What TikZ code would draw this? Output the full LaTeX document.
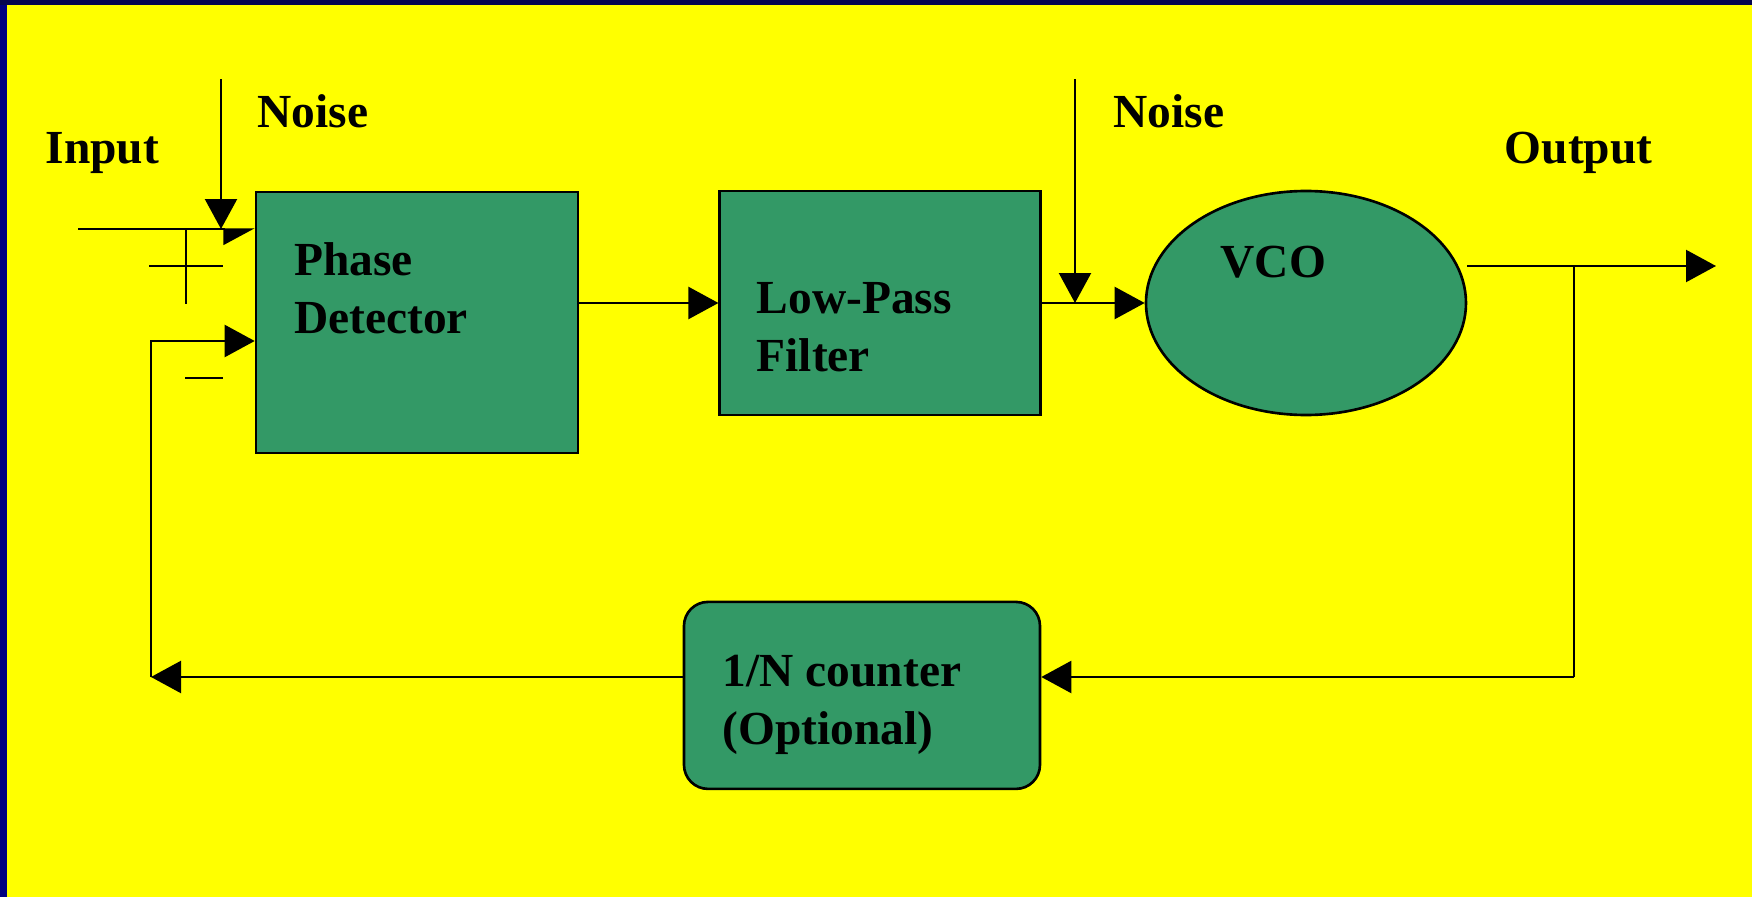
\documentclass[tikz,border=0pt]{standalone}
\usepackage{fontspec}
\setmainfont{Liberation Serif}
\usetikzlibrary{arrows.meta, shapes.geometric}
\definecolor{pllyellow}{HTML}{FFFF00}
\definecolor{pllgreen}{HTML}{339966}
\definecolor{pllnavy}{HTML}{000080}
\definecolor{pllnight}{HTML}{05054F}

\begin{document}
\begin{tikzpicture}[
  x=0.1mm, y=-0.1mm,
  every node/.style={font=\fontsize{13.5}{16.5}\selectfont\bfseries},
  block/.style={draw, fill=pllgreen, line width=0.75pt, inner sep=0pt},
  label text/.style={anchor=base west, inner sep=0pt, align=left},
  wire/.style={line width=0.65pt},
  sig/.style={wire, -{Triangle[length=3mm, width=3.2mm]}},
]
% background and frame
\fill[pllyellow] (0,0) rectangle (1752,897);
\fill[pllnavy] (0,0) rectangle (7.5,897);
\fill[pllnight] (0,0) rectangle (1752,5);

% blocks
\node[block, rectangle, minimum width=32.2mm, minimum height=26.1mm] (pd) at (417,322.5) {};
\node[block, rectangle, minimum width=32.05mm, minimum height=22.4mm] (lpf) at (880,303) {};
\node[block, ellipse, minimum width=32mm, minimum height=22.4mm] (vco) at (1306,303) {};
\node[block, rectangle, rounded corners=2.4mm, minimum width=35.6mm, minimum height=18.7mm] (cnt) at (862,695.4) {};

% texts (base = last line)
\node[label text] (inputlbl) at (45,163) {Input};
\node[label text] (noise1) at (257,127) {Noise};
\node[label text] (noise2) at (1113,127) {Noise};
\node[label text] (outlbl) at (1504,164) {Output};
\node[label text] (pdlbl) at (293.5,333) {Phase\\Detector};
\node[label text] (lpflbl) at (756,371) {Low-Pass\\Filter};
\node[label text] (vcolbl) at (1220,277) {VCO};
\node[label text] (cntlbl) at (722,744) {1/N counter\\(Optional)};

% loose ends and corners
\coordinate (in) at (78,229);
\coordinate (n1) at (221,79);
\coordinate (n2) at (1075,79);
\coordinate (out) at (1716,266);
\coordinate (tap) at (1574,266);
\coordinate (fbr) at (1574,677);
\coordinate (fbl) at (151,677);
\coordinate (fbup) at (151,341);

% signal path
\draw[wire, line width=0.4pt, -{Triangle[length=3mm, width=3.2mm, harpoon, swap]}] (in) -- (in -| pd.west);
\draw[sig] (n1) -- (n1 |- in);
\draw[sig] (pd.east |- lpf.west) -- (lpf.west);
\draw[sig] (lpf.east) -- (vco.west);
\draw[sig] (n2) -- (n2 |- lpf.east);
\draw[sig] (vco.east |- out) -- (out);

% feedback
\draw[wire] (tap) -- (fbr);
\draw[sig] (fbr) -- (fbr -| cnt.east);
\draw[sig] (fbr -| cnt.west) -- (fbl);
\draw[sig] (fbl) -- (fbup) -- (fbup -| pd.west);

% plus and minus
\draw[wire] (149,266) -- (223,266) (186,228) -- (186,304);
\draw[wire] (185,378) -- (223,378);
\end{tikzpicture}
\end{document}
